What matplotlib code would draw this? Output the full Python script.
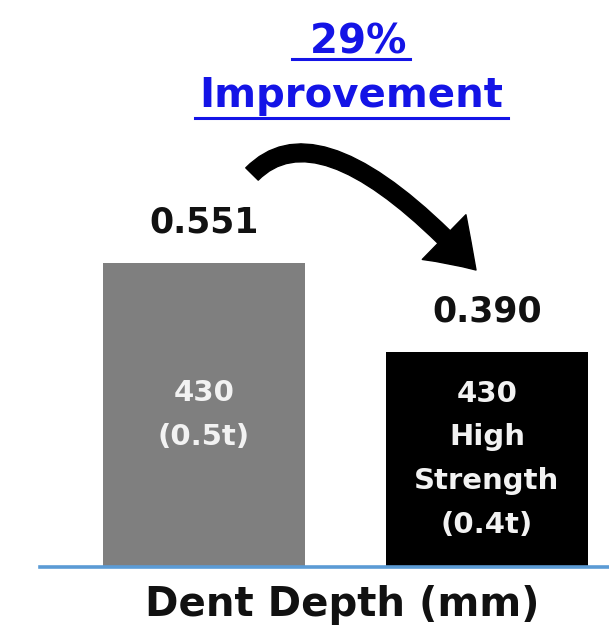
import matplotlib
matplotlib.use("Agg")
import matplotlib.pyplot as plt
from matplotlib.patches import FancyArrowPatch
from matplotlib.path import Path
from matplotlib.lines import Line2D

# ---- data ----
categories = ["430\n(0.5t)", "430\nHigh\nStrength\n(0.4t)"]
values = [0.551, 0.390]
value_labels = ["0.551", "0.390"]
bar_colors = ["#7f7f7f", "#000000"]
headline = [" 29%", "Improvement"]
xlabel = "Dent Depth (mm)"

W, H = 609, 637
FONT = ["DejaVu Sans"]
plt.rcParams["font.family"] = FONT

fig = plt.figure(figsize=(W / 100, H / 100), dpi=100)
fig.patch.set_facecolor("white")

def px(x, y):
    return (x / W, 1 - y / H)

ax = fig.add_axes([40 / W, 70 / H, 569 / W, 567 / H])
ppu = 304 / 0.551
ax.set_ylim(0, 567 / ppu)
ax.set_xlim(-164 / 283, 1 + 122 / 283)
xs = list(range(len(values)))
ax.bar(xs, values, width=202 / 283, color=bar_colors, zorder=2)
ax.axhline(0, color="#5b9bd5", lw=2.6, zorder=3, clip_on=False)
for s in ax.spines.values():
    s.set_visible(False)
ax.set_xticks([])
ax.set_yticks([])
ax.patch.set_alpha(0)

for x, v, lab in zip(xs, values, value_labels):
    ax.annotate(lab, (x, v), xytext=(0, 29), textcoords="offset points",
                ha="center", va="center", fontsize=25, fontweight="bold",
                color="#111111")
for x, v, cat in zip(xs, values, categories):
    ax.text(x, v / 2, cat, ha="center", va="center", fontsize=21,
            fontweight="bold", color="#f2f2f2", linespacing=1.72)

# x label
fig.text(*px(342, 605), xlabel, ha="center", va="center", fontsize=29,
         fontweight="bold", color="#111111")

# headline
blue = "#1414e6"
fig.text(*px(351, 54), headline[0], ha="center", va="baseline", fontsize=29,
         fontweight="bold", color=blue)
fig.text(*px(351, 107), headline[1], ha="center", va="baseline", fontsize=29,
         fontweight="bold", color=blue)
for (x0, x1, y) in [(292, 410, 59), (195, 508, 118)]:
    fig.add_artist(Line2D([x0 / W, x1 / W], [1 - y / H, 1 - y / H],
                          color=blue, lw=2.2, transform=fig.transFigure))

# curved arrow
P0, C, P2 = px(252, 174), px(322, 103), px(476, 270)
path = Path([P0, C, P2], [Path.MOVETO, Path.CURVE3, Path.CURVE3])
arr = FancyArrowPatch(path=path,
                      arrowstyle="simple,head_length=1.1,head_width=1.5,tail_width=0.42",
                      mutation_scale=30, color="black", transform=fig.transFigure)
fig.add_artist(arr)

fig.savefig("out.png", dpi=100, facecolor="white")
